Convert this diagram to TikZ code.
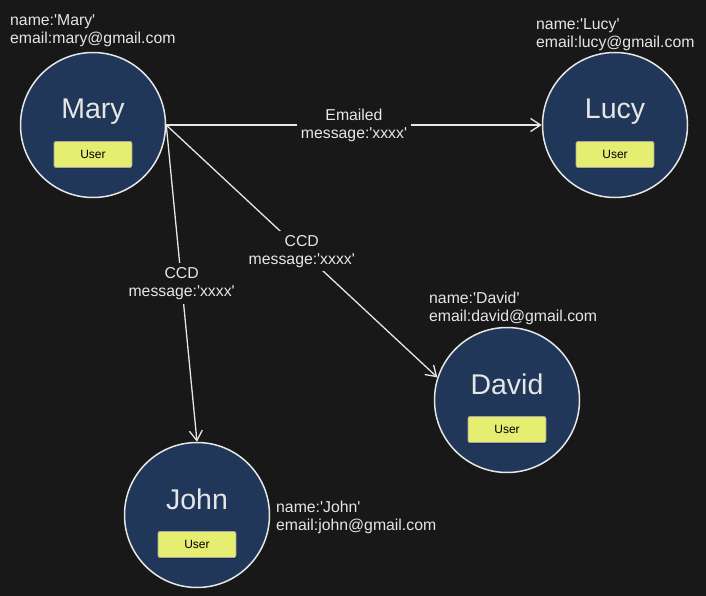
\documentclass[tikz,border=0pt]{standalone}
\usepackage{fontspec}
\setmainfont{Liberation Sans}[Ligatures=TeXOff]
\usetikzlibrary{arrows.meta,shadows}
\definecolor{bg}{HTML}{181818}
\definecolor{nodefill}{HTML}{203759}
\definecolor{userfill}{HTML}{E6EE72}
\definecolor{fg}{HTML}{E6E6E6}
\tikzset{
 person/.style={circle, draw=fg, line width=1.5pt, fill=nodefill, minimum size=145pt, inner sep=0pt},
 pname/.style={text=fg, font=\fontsize{28.5}{32}\selectfont, anchor=base, inner sep=0pt},
 userbox/.style={draw=gray!70, fill=userfill, rounded corners=2pt, minimum width=78pt, minimum height=26pt, inner sep=0pt, font=\fontsize{12}{14}\selectfont, text=black, line width=0.8pt, drop shadow={shadow xshift=1pt, shadow yshift=-1pt, fill=black, opacity=0.35}},
 info/.style={text=fg, font=\fontsize{15.8}{18}\selectfont, align=left, anchor=north west, inner sep=0pt},
 rel/.style={draw=fg, line width=1.3pt, -{Straight Barb[length=10pt,width=13pt]}},
 rellabel/.style={fill=bg, text=fg, font=\fontsize{15.8}{18}\selectfont, align=center, inner sep=4pt},
}
\begin{document}
\begin{tikzpicture}[x=1pt,y=-1pt]
\fill[bg] (0,0) rectangle (706,596);
\useasboundingbox (0,0) rectangle (706,596);

% people
\node[person] (Mary) at (93,125) {};
\node[person] (Lucy) at (615,125) {};
\node[person] (David) at (507,400) {};
\node[person] (John) at (197,515) {};

\foreach \p in {Mary,Lucy,David,John}{
  \node[pname, yshift=6pt] (\p-name) at (\p) {\p};
  \node[userbox, yshift=-29.5pt] (\p-user) at (\p) {User};
}

% info labels
\node[info] (Mary-info) at (10,14) {name:'Mary'\\email:mary@gmail.com};
\node[info] (Lucy-info) at (536,18) {name:'Lucy'\\email:lucy@gmail.com};
\node[info] (David-info) at (429,292) {name:'David'\\email:david@gmail.com};
\node[info] (John-info) at (276,501) {name:'John'\\email:john@gmail.com};

% relations
\draw[rel] (Mary.east) -- node[rellabel] (l1) {Emailed\\message:'xxxx'} (Lucy.west);
\draw[rel] (Mary.east) -- node[rellabel] (l2) {CCD\\message:'xxxx'} (David.162);
\draw[rel] (Mary.east) -- node[rellabel] (l3) {CCD\\message:'xxxx'} (John.north);
\end{tikzpicture}
\end{document}
